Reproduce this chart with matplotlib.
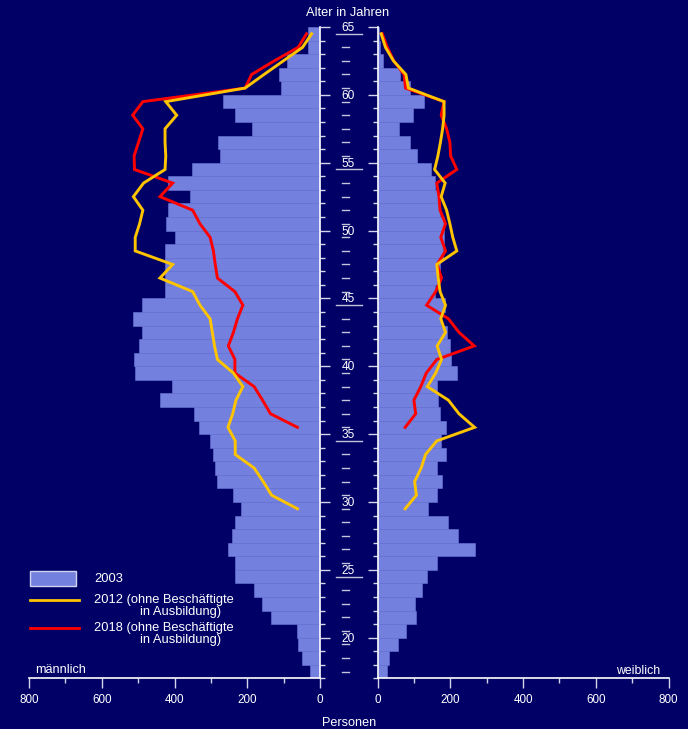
import numpy as np
import matplotlib
matplotlib.use("Agg")
import matplotlib.pyplot as plt
from matplotlib.transforms import blended_transform_factory
from matplotlib.patches import Rectangle
from matplotlib.lines import Line2D
from matplotlib.ticker import MultipleLocator

plt.rcParams['font.family'] = ['Liberation Sans', 'DejaVu Sans']

# Age classes (one bar per year of age)
ages = np.arange(17, 65)

# Staff 2003 (persons per age year)
men_2003 = [27, 49, 60, 64, 136, 159, 181, 233, 235, 253, 241, 233, 216, 238,
            282, 290, 293, 302, 332, 347, 440, 408, 508, 510, 497, 490, 513, 488,
            426, 426, 426, 426, 399, 423, 419, 357, 419, 351, 275, 281, 186, 233,
            268, 106, 112, 90, 32, 32]
women_2003 = [25, 32, 56, 77, 107, 103, 121, 137, 163, 267, 222, 195, 140, 163,
              176, 164, 187, 174, 187, 172, 167, 163, 218, 203, 198, 190, 175, 186,
              157, 166, 173, 179, 183, 183, 172, 167, 158, 146, 108, 90, 60, 97,
              127, 89, 62, 15, 7, 3]

# Projections without trainees
ages_2012 = np.arange(29, 65)
men_2012 = [62, 133, 156, 181, 233, 233, 253, 240, 231, 212, 238, 282, 290, 296,
            302, 330, 350, 440, 405, 508, 508, 496, 487, 513, 485, 426, 424, 426,
            426, 394, 424, 206, 154, 101, 48, 23]
women_2012 = [76, 107, 102, 120, 132, 163, 267, 224, 195, 137, 160, 176, 164, 187,
              174, 187, 172, 167, 163, 218, 207, 199, 190, 175, 186, 157, 166, 173,
              179, 183, 183, 85, 78, 44, 22, 10]

ages_2018 = np.arange(35, 65)
men_2018 = [62, 136, 158, 181, 234, 234, 252, 238, 227, 212, 234, 282, 288, 293,
            302, 330, 350, 440, 405, 510, 511, 499, 487, 515, 487, 206, 188, 126,
            60, 37]
women_2018 = [76, 105, 100, 119, 134, 163, 266, 224, 195, 135, 160, 176, 164, 187,
              174, 187, 172, 169, 163, 218, 201, 199, 190, 175, 183, 77, 73, 45,
              27, 13]

x_ticks = [0, 200, 400, 600, 800]
age_ticks = list(range(20, 66, 5))

BG = '#000066'
BAR = '#7480dd'
BAR_EDGE = '#6b78d8'
YELLOW = '#ffc400'
RED = '#ff0000'
FG = 'white'
TICK = '#d4d4ea'

W, H = 688, 729
fig = plt.figure(figsize=(W / 100, H / 100), dpi=100, facecolor=BG)


def fx(px):
    return px / W


def fy(py):
    return 1 - py / H


y_top, y_bot = 27.0, 678.4
axL = fig.add_axes([fx(29), fy(y_bot), fx(320) - fx(29), fy(y_top) - fy(y_bot)])
axR = fig.add_axes([fx(377.5), fy(y_bot), fx(668.5) - fx(377.5), fy(y_top) - fy(y_bot)])

for ax, bars, v12, v18, side in [(axL, men_2003, men_2012, men_2018, 'left'),
                                 (axR, women_2003, women_2012, women_2018, 'right')]:
    ax.set_facecolor(BG)
    ax.barh(ages, bars, height=1.0, align='edge', color=BAR,
            edgecolor=BAR_EDGE, linewidth=0.4, zorder=1)
    ax.plot(v12, ages_2012 + 0.5, color=YELLOW, lw=2.1, zorder=3,
            solid_joinstyle='miter')
    ax.plot(v18, ages_2018 + 0.5, color=RED, lw=2.1, zorder=2,
            solid_joinstyle='miter')
    ax.set_ylim(17, 65)
    ax.set_xticks(x_ticks)
    ax.xaxis.set_minor_locator(MultipleLocator(100))
    ax.yaxis.set_major_locator(MultipleLocator(5))
    ax.yaxis.set_minor_locator(MultipleLocator(1))
    ax.tick_params(axis='x', which='major', direction='out', length=7.5,
                   width=1, color=TICK, labelcolor=FG, labelsize=8.4, pad=4)
    ax.tick_params(axis='x', which='minor', direction='out', length=3.8,
                   width=1, color=TICK)
    ax.tick_params(axis='y', which='major', direction='out', length=7.5,
                   width=1, color=TICK, labelleft=False, labelright=False)
    ax.tick_params(axis='y', which='minor', direction='out', length=3.8,
                   width=1, color=TICK)
    for s in ax.spines.values():
        s.set_color(FG)
        s.set_linewidth(1.2)
    ax.spines['top'].set_visible(False)
    if side == 'left':
        ax.set_xlim(800, 0)
        ax.spines['left'].set_visible(False)
        ax.yaxis.tick_right()
        ax.tick_params(axis='y', which='both', left=False, right=True,
                       labelleft=False, labelright=False)
    else:
        ax.set_xlim(0, 800)
        ax.spines['right'].set_visible(False)
        ax.yaxis.tick_left()
        ax.tick_params(axis='y', which='both', left=True, right=False,
                       labelleft=False, labelright=False)

# Age scale in the gap between the two halves
tr = blended_transform_factory(fig.transFigure, axL.transData)
for a in np.arange(17, 65) + 0.5:
    long = int(a - 0.5) % 10 == 4
    x0, x1 = (335.7, 361.7) if long else (342.3, 349.0)
    fig.add_artist(Line2D([fx(x0), fx(x1)], [a, a], transform=tr,
                          color='#c4c4dc', lw=1.0))
for a in age_ticks:
    # baseline placed so the digits sit centred on the age value
    fig.text(fx(348.5), a - 0.30, str(a), transform=tr, ha='center',
             va='baseline', color=FG, fontsize=8.6)

# Titles and side labels
fig.text(fx(347.5), fy(12.5), 'Alter in Jahren', ha='center', va='center',
         color=FG, fontsize=9.3)
fig.text(fx(349), fy(722.5), 'Personen', ha='center', va='center',
         color=FG, fontsize=9.1)
fig.text(fx(35), fy(670), 'männlich', ha='left', va='center',
         color=FG, fontsize=9.1)
fig.text(fx(660), fy(670.5), 'weiblich', ha='right', va='center',
         color=FG, fontsize=8.8)

# Legend
fig.add_artist(Rectangle((fx(30), fy(586)), fx(76) - fx(30), fy(571) - fy(586),
                         transform=fig.transFigure, facecolor=BAR,
                         edgecolor='#d0d4f4', lw=1.0))
fig.add_artist(Line2D([fx(30), fx(79)], [fy(600.3), fy(600.3)],
                      transform=fig.transFigure, color=YELLOW, lw=2.0))
fig.add_artist(Line2D([fx(30), fx(79)], [fy(628.3), fy(628.3)],
                      transform=fig.transFigure, color=RED, lw=2.0))
leg_fs = 9.3
fig.text(fx(94), fy(579.3), '2003', ha='left', va='center', color=FG, fontsize=leg_fs)
fig.text(fx(94), fy(600.5), '2012 (ohne Beschäftigte', ha='left', va='center',
         color=FG, fontsize=leg_fs)
fig.text(fx(140), fy(612), 'in Ausbildung)', ha='left', va='center',
         color=FG, fontsize=leg_fs)
fig.text(fx(94), fy(628.3), '2018 (ohne Beschäftigte', ha='left', va='center',
         color=FG, fontsize=leg_fs)
fig.text(fx(140), fy(639.5), 'in Ausbildung)', ha='left', va='center',
         color=FG, fontsize=leg_fs)

fig.savefig('out.png', dpi=100, facecolor=BG)
